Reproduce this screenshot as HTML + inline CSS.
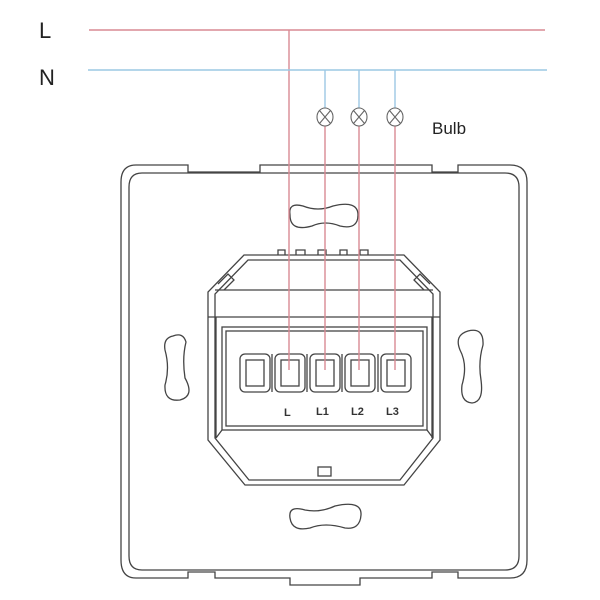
<!DOCTYPE html>
<html><head><style>body{margin:0;background:#fff}svg{display:block}</style></head><body>
<svg width="600" height="600" viewBox="0 0 600 600" xmlns="http://www.w3.org/2000/svg" font-family="Liberation Sans, sans-serif">
<rect width="600" height="600" fill="#fff"/>
<g fill="none" stroke="#444" stroke-width="1.3">
<!-- outer frame -->
<path d="M136 165 H188 V172 H260 V165 H432 V172 H458 V165 H510 Q527 165 527 182 V560 Q527 578 510 578 H458 V572 H432 V578 H360 V585 H290 V578 H215 V572 H188 V578 H136 Q121 578 121 560 V182 Q121 165 136 165 Z"/>
<path d="M142 173 H505 Q519 173 519 187 V556 Q519 570 505 570 H142 Q129 570 129 556 V187 Q129 173 142 173 Z"/>
<!-- slots -->
<path d="M290 215 Q288 202 303 206 Q318 212 333 206 Q358 200 358 215 Q358 230 340 226 Q325 220 312 226 Q290 232 290 215 Z"/>
<path d="M290 518 Q288 505 305 510 Q320 513 335 506 Q362 500 361 515 Q360 530 345 528 Q325 522 310 528 Q292 532 290 518 Z"/>
<path d="M173 336 Q183 332 186 342 Q182 358 185 378 Q195 396 180 400 Q164 402 165 385 Q170 368 165 350 Q163 338 173 336 Z"/>
<path d="M468 331 Q484 327 483 345 Q478 362 481 380 Q484 402 472 403 Q460 402 462 385 Q468 365 460 350 Q454 335 468 331 Z"/>
<!-- module octagon -->
<path d="M244 255 H404 L440 292 V440 L404 485 H245 L208 440 V292 Z"/>
<path d="M248 260 H400 L433 294 V438 L400 480 H249 L215 438 V294 Z"/>
<path d="M215 290 H433 M208 317 H440 M216 317 V438 M432 317 V438"/>
<rect x="222" y="327" width="205" height="103"/>
<rect x="226" y="331" width="197" height="95"/>
<path d="M222 430 L216 438 M427 430 L433 438"/>
<path d="M218 284 L228 274 L234 280 L224 290 M430 284 L420 274 L414 280 L424 290"/>
<path d="M278 255 V250 H285 V255 M296 255 V250 H305 V255 M318 255 V250 H326 V255 M340 255 V250 H347 V255 M360 255 V250 H368 V255"/>
<rect x="318" y="467" width="13" height="9"/>
<!-- terminals -->
<rect x="240" y="354" width="30" height="38" rx="5"/><rect x="246" y="360" width="18" height="26"/>
<rect x="275" y="354" width="30" height="38" rx="5"/><rect x="281" y="360" width="18" height="26"/>
<rect x="310" y="354" width="30" height="38" rx="5"/><rect x="316" y="360" width="18" height="26"/>
<rect x="345" y="354" width="30" height="38" rx="5"/><rect x="351" y="360" width="18" height="26"/>
<rect x="381" y="354" width="30" height="38" rx="5"/><rect x="387" y="360" width="18" height="26"/>
<path d="M272 354 V392 M307 354 V392 M342 354 V392 M378 354 V392"/>
</g>
<!-- wires -->
<g stroke="#d98a93" stroke-width="1.4" fill="none">
<path d="M89 30 H545"/>
<path d="M289 30 V370"/>
<path d="M325 126 V370 M359 126 V370 M395 126 V370"/>
</g>
<g stroke="#9cc8e4" stroke-width="1.4" fill="none">
<path d="M88 70 H547"/>
<path d="M325 70 V108 M359 70 V108 M395 70 V108"/>
</g>
<g stroke="#666" stroke-width="1.1" fill="none">
<ellipse cx="325" cy="117" rx="8" ry="9"/><path d="M319.5 110.5 L330.5 123.5 M330.5 110.5 L319.5 123.5"/>
<ellipse cx="359" cy="117" rx="8" ry="9"/><path d="M353.5 110.5 L364.5 123.5 M364.5 110.5 L353.5 123.5"/>
<ellipse cx="395" cy="117" rx="8" ry="9"/><path d="M389.5 110.5 L400.5 123.5 M400.5 110.5 L389.5 123.5"/>
</g>
<text x="39" y="38" font-size="22" fill="#222">L</text>
<text x="39" y="85" font-size="22" fill="#222">N</text>
<text x="432" y="134" font-size="17" fill="#222">Bulb</text>
<g font-size="11" fill="#333" font-weight="bold">
<text x="284" y="416">L</text><text x="316" y="415">L1</text><text x="351" y="415">L2</text><text x="386" y="415">L3</text>
</g>
</svg>
</body></html>
